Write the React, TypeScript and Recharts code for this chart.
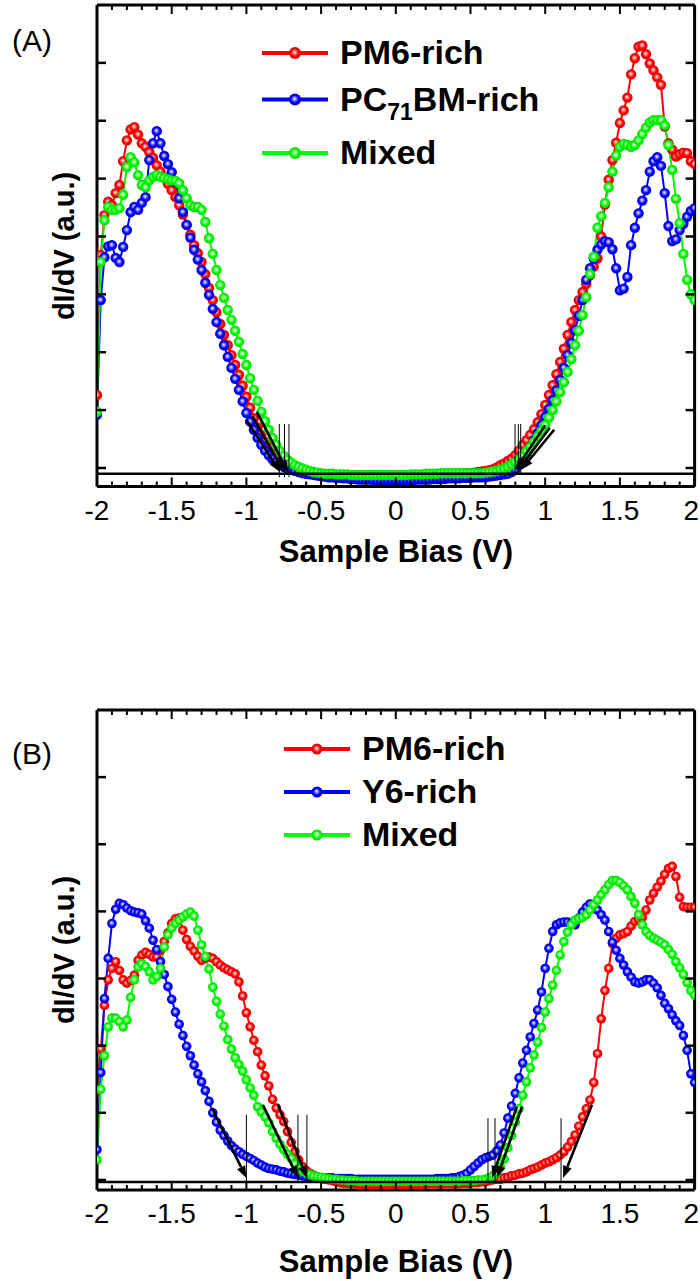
import React from 'react';
import { LineChart, Line, XAxis, YAxis, ReferenceLine } from 'recharts';

const FONT = '"Liberation Sans", Arial, Helvetica, sans-serif';

// Sample bias (V)
const biasV = [
  -2, -1.975, -1.95, -1.925, -1.9, -1.875, -1.85, -1.825, -1.8, -1.775,
  -1.75, -1.725, -1.7, -1.675, -1.65, -1.625, -1.6, -1.575, -1.55, -1.525,
  -1.5, -1.475, -1.45, -1.425, -1.4, -1.375, -1.35, -1.325, -1.3, -1.275,
  -1.25, -1.225, -1.2, -1.175, -1.15, -1.125, -1.1, -1.075, -1.05, -1.025,
  -1, -0.975, -0.95, -0.925, -0.9, -0.875, -0.85, -0.825, -0.8, -0.775,
  -0.75, -0.725, -0.7, -0.675, -0.65, -0.625, -0.6, -0.575, -0.55, -0.525,
  -0.5, -0.475, -0.45, -0.425, -0.4, -0.375, -0.35, -0.325, -0.3, -0.275,
  -0.25, -0.225, -0.2, -0.175, -0.15, -0.125, -0.1, -0.075, -0.05, -0.025,
  0, 0.025, 0.05, 0.075, 0.1, 0.125, 0.15, 0.175, 0.2, 0.225,
  0.25, 0.275, 0.3, 0.325, 0.35, 0.375, 0.4, 0.425, 0.45, 0.475,
  0.5, 0.525, 0.55, 0.575, 0.6, 0.625, 0.65, 0.675, 0.7, 0.725,
  0.75, 0.775, 0.8, 0.825, 0.85, 0.875, 0.9, 0.925, 0.95, 0.975,
  1, 1.025, 1.05, 1.075, 1.1, 1.125, 1.15, 1.175, 1.2, 1.225,
  1.25, 1.275, 1.3, 1.325, 1.35, 1.375, 1.4, 1.425, 1.45, 1.475,
  1.5, 1.525, 1.55, 1.575, 1.6, 1.625, 1.65, 1.675, 1.7, 1.725,
  1.75, 1.775, 1.8, 1.825, 1.85, 1.875, 1.9, 1.925, 1.95, 1.975,
  2,
];

// Panel A (dI/dV, a.u.)
const pm6A = [
  1.26, 3.68, 4.37, 4.6, 4.54, 4.75, 4.89, 5.3, 5.66, 5.85,
  5.89, 5.76, 5.61, 5.55, 5.46, 5.36, 5.23, 5.12, 5.01, 4.91,
  4.8, 4.68, 4.54, 4.38, 4.2, 4.03, 3.85, 3.71, 3.56, 3.35,
  3.11, 2.9, 2.69, 2.49, 2.3, 2.12, 1.95, 1.78, 1.61, 1.42,
  1.23, 1.04, 0.86, 0.7, 0.57, 0.45, 0.35, 0.25, 0.17, 0.1,
  0.05, 0.01, -0.02, -0.04, -0.05, -0.06, -0.07, -0.08, -0.09, -0.1,
  -0.1, -0.11, -0.11, -0.12, -0.12, -0.12, -0.12, -0.13, -0.13, -0.13,
  -0.13, -0.13, -0.13, -0.14, -0.14, -0.14, -0.14, -0.14, -0.14, -0.14,
  -0.14, -0.14, -0.14, -0.14, -0.14, -0.13, -0.13, -0.13, -0.13, -0.13,
  -0.13, -0.12, -0.12, -0.12, -0.12, -0.11, -0.11, -0.1, -0.1, -0.09,
  -0.09, -0.08, -0.07, -0.06, -0.05, -0.04, -0.02, 0.01, 0.05, 0.08,
  0.12, 0.16, 0.22, 0.3, 0.4, 0.48, 0.57, 0.67, 0.79, 0.93,
  1.09, 1.26, 1.43, 1.62, 1.83, 2.06, 2.3, 2.52, 2.73, 2.9,
  3.04, 3.18, 3.33, 3.48, 3.62, 4.0, 4.55, 4.98, 5.32, 5.62,
  5.96, 6.18, 6.4, 6.8, 7.08, 7.28, 7.3, 7.15, 6.99, 6.87,
  6.75, 6.62, 5.9, 5.61, 5.5, 5.38, 5.42, 5.45, 5.44, 5.3,
  5.25,
];
const pcbmA = [
  0.92, 2.9, 3.64, 3.83, 3.85, 3.63, 3.56, 3.82, 4.11, 4.42,
  4.51, 4.46, 4.58, 4.68, 5.32, 5.61, 5.82, 5.61, 5.39, 5.25,
  5.11, 4.94, 4.66, 4.42, 4.2, 3.98, 3.77, 3.6, 3.42, 3.2,
  2.99, 2.75, 2.52, 2.32, 2.12, 1.92, 1.73, 1.54, 1.35, 1.15,
  0.95, 0.8, 0.66, 0.52, 0.4, 0.3, 0.22, 0.15, 0.1, 0.05,
  0.02, -0.01, -0.03, -0.05, -0.07, -0.09, -0.1, -0.11, -0.12, -0.13,
  -0.14, -0.15, -0.16, -0.16, -0.17, -0.17, -0.18, -0.18, -0.19, -0.19,
  -0.2, -0.2, -0.2, -0.2, -0.21, -0.21, -0.21, -0.21, -0.21, -0.21,
  -0.21, -0.21, -0.21, -0.21, -0.21, -0.21, -0.2, -0.2, -0.2, -0.2,
  -0.19, -0.19, -0.19, -0.19, -0.18, -0.18, -0.18, -0.18, -0.17, -0.17,
  -0.17, -0.16, -0.16, -0.16, -0.16, -0.15, -0.14, -0.13, -0.12, -0.11,
  -0.1, -0.07, -0.03, 0.05, 0.14, 0.25, 0.36, 0.48, 0.6, 0.74,
  0.88, 1.02, 1.17, 1.34, 1.52, 1.73, 1.95, 2.16, 2.38, 2.63,
  2.9, 3.25, 3.45, 3.62, 3.77, 3.86, 3.92, 3.9, 3.78, 3.45,
  3.07, 3.1, 3.3, 3.85, 4.15, 4.4, 4.62, 4.8, 5.12, 5.3,
  5.37, 5.22, 4.75, 4.18, 3.92, 3.95, 4.11, 4.22, 4.34, 4.44,
  4.49,
];
const mixA = [
  0.97, 3.56, 4.28, 4.51, 4.46, 4.46, 4.49, 4.72, 5.2, 5.37,
  5.28, 5.06, 4.89, 4.85, 4.97, 5.03, 5.06, 5.03, 5.01, 4.99,
  4.97, 4.96, 4.92, 4.8, 4.66, 4.54, 4.51, 4.51, 4.46, 4.25,
  3.97, 3.7, 3.42, 3.16, 2.94, 2.73, 2.56, 2.37, 2.18, 1.97,
  1.78, 1.55, 1.35, 1.16, 0.97, 0.81, 0.66, 0.52, 0.4, 0.29,
  0.21, 0.14, 0.09, 0.05, 0.02, -0.01, -0.03, -0.05, -0.07, -0.08,
  -0.09, -0.1, -0.1, -0.1, -0.11, -0.11, -0.11, -0.11, -0.12, -0.12,
  -0.12, -0.12, -0.12, -0.12, -0.12, -0.12, -0.12, -0.12, -0.12, -0.12,
  -0.12, -0.12, -0.12, -0.12, -0.11, -0.11, -0.11, -0.11, -0.1, -0.1,
  -0.1, -0.1, -0.09, -0.09, -0.09, -0.09, -0.09, -0.09, -0.09, -0.09,
  -0.09, -0.09, -0.09, -0.09, -0.08, -0.07, -0.06, -0.05, -0.03, -0.01,
  0.02, 0.06, 0.1, 0.15, 0.22, 0.29, 0.36, 0.45, 0.54, 0.64,
  0.74, 0.87, 1.0, 1.15, 1.31, 1.48, 1.66, 1.88, 2.12, 2.37,
  2.64, 2.95, 3.35, 3.65, 4.15, 4.35, 4.58, 4.85, 5.12, 5.4,
  5.55, 5.6, 5.58, 5.55, 5.58, 5.66, 5.77, 5.88, 5.97, 6.01,
  6.01, 6.01, 5.92, 5.58, 5.15, 4.65, 4.23, 3.7, 3.25, 3.0,
  2.9,
];

// Panel B (dI/dV, a.u.)
const pm6B = [
  1.34, 1.95, 2.6, 2.98, 3.15, 3.25, 3.12, 2.98, 2.93, 2.97,
  3.05, 3.27, 3.35, 3.39, 3.36, 3.32, 3.32, 3.42, 3.55, 3.68,
  3.82, 3.89, 3.9, 3.72, 3.58, 3.48, 3.41, 3.33, 3.27, 3.3,
  3.32, 3.3, 3.25, 3.2, 3.16, 3.13, 3.1, 3.07, 2.95, 2.74,
  2.49, 2.28, 2.08, 1.91, 1.71, 1.55, 1.4, 1.2, 1.07, 0.97,
  0.87, 0.72, 0.56, 0.42, 0.3, 0.2, 0.14, 0.1, 0.07, 0.04,
  0.03, 0.01, 0.0, -0.01, -0.03, -0.04, -0.05, -0.05, -0.06, -0.06,
  -0.06, -0.07, -0.07, -0.07, -0.07, -0.07, -0.07, -0.07, -0.07, -0.07,
  -0.07, -0.07, -0.07, -0.07, -0.07, -0.07, -0.07, -0.07, -0.06, -0.06,
  -0.06, -0.06, -0.06, -0.06, -0.06, -0.06, -0.06, -0.06, -0.05, -0.05,
  -0.05, -0.04, -0.04, -0.03, -0.03, -0.01, 0.0, 0.01, 0.01, 0.03,
  0.04, 0.06, 0.07, 0.09, 0.1, 0.12, 0.15, 0.17, 0.19, 0.22,
  0.25, 0.27, 0.3, 0.33, 0.37, 0.42, 0.49, 0.57, 0.67, 0.8,
  0.94, 1.06, 1.19, 1.45, 1.88, 2.4, 2.82, 3.15, 3.52, 3.6,
  3.65, 3.67, 3.7, 3.78, 3.85, 3.88, 3.91, 4.02, 4.17, 4.27,
  4.36, 4.45, 4.55, 4.64, 4.67, 4.52, 4.21, 4.07, 4.06, 4.06,
  4.06,
];
const y6B = [
  0.45, 1.6, 2.7, 3.3, 3.82, 4.03, 4.12, 4.1, 4.05, 4.01,
  3.99, 3.98, 3.96, 3.86, 3.75, 3.57, 3.43, 3.25, 3.06, 2.88,
  2.69, 2.5, 2.32, 2.15, 1.99, 1.85, 1.71, 1.58, 1.46, 1.33,
  1.17, 1.0, 0.86, 0.74, 0.66, 0.58, 0.51, 0.46, 0.42, 0.38,
  0.35, 0.32, 0.29, 0.25, 0.22, 0.19, 0.17, 0.16, 0.15, 0.13,
  0.12, 0.1, 0.09, 0.08, 0.07, 0.06, 0.05, 0.05, 0.04, 0.04,
  0.03, 0.03, 0.03, 0.03, 0.02, 0.02, 0.02, 0.02, 0.02, 0.01,
  0.01, 0.01, 0.01, 0.01, 0.01, 0.01, 0.01, 0.01, 0.01, 0.01,
  0.01, 0.01, 0.01, 0.01, 0.01, 0.01, 0.01, 0.01, 0.01, 0.01,
  0.01, 0.02, 0.02, 0.02, 0.02, 0.03, 0.03, 0.05, 0.07, 0.1,
  0.15, 0.2, 0.25, 0.3, 0.33, 0.35, 0.37, 0.43, 0.52, 0.7,
  0.92, 1.1, 1.29, 1.52, 1.74, 1.93, 2.13, 2.33, 2.53, 2.8,
  3.15, 3.45, 3.7, 3.8, 3.83, 3.84, 3.84, 3.82, 3.8, 3.9,
  3.99, 4.06, 4.11, 4.09, 4.02, 3.95, 3.87, 3.7, 3.54, 3.42,
  3.3, 3.2, 3.1, 3.02, 2.95, 2.93, 2.95, 2.98, 2.98, 2.93,
  2.86, 2.75, 2.63, 2.55, 2.46, 2.37, 2.3, 2.15, 1.93, 1.58,
  1.45,
];
const mixB = [
  0.3, 1.35, 1.85, 2.28, 2.41, 2.41, 2.36, 2.28, 2.38, 2.72,
  2.98, 3.17, 3.22, 3.18, 3.1, 2.98, 3.03, 3.15, 3.47, 3.65,
  3.75, 3.82, 3.87, 3.92, 3.96, 3.99, 3.93, 3.72, 3.5, 3.33,
  3.14, 2.87, 2.66, 2.47, 2.29, 2.09, 1.95, 1.82, 1.72, 1.62,
  1.49, 1.37, 1.26, 1.09, 1.01, 0.94, 0.85, 0.72, 0.62, 0.53,
  0.45, 0.38, 0.32, 0.24, 0.17, 0.13, 0.1, 0.08, 0.06, 0.05,
  0.04, 0.03, 0.02, 0.01, 0.01, 0.0, 0.0, -0.01, -0.01, -0.01,
  -0.02, -0.02, -0.02, -0.02, -0.02, -0.02, -0.02, -0.02, -0.02, -0.02,
  -0.02, -0.02, -0.02, -0.02, -0.02, -0.02, -0.02, -0.02, -0.02, -0.02,
  -0.02, -0.02, -0.02, -0.02, -0.02, -0.02, -0.02, -0.02, -0.01, -0.01,
  -0.01, -0.01, 0.0, 0.0, 0.01, 0.03, 0.06, 0.11, 0.19, 0.31,
  0.48, 0.66, 0.86, 1.06, 1.26, 1.46, 1.67, 1.86, 2.05, 2.27,
  2.5, 2.7, 2.9, 3.12, 3.35, 3.55, 3.69, 3.8, 3.87, 3.89,
  3.91, 3.95, 4.02, 4.1, 4.17, 4.25, 4.32, 4.4, 4.46, 4.46,
  4.43, 4.38, 4.32, 4.22, 4.12, 3.95, 3.8, 3.7, 3.64, 3.6,
  3.57, 3.54, 3.5, 3.43, 3.36, 3.25, 3.16, 3.06, 2.94, 2.82,
  2.75,
];

// Axis ticks
const minorTicks = [
  -2, -1.9, -1.8, -1.7, -1.6, -1.5, -1.4, -1.3, -1.2, -1.1,
  -1, -0.9, -0.8, -0.7, -0.6, -0.5, -0.4, -0.3, -0.2, -0.1,
  0, 0.1, 0.2, 0.3, 0.4, 0.5, 0.6, 0.7, 0.8, 0.9,
  1, 1.1, 1.2, 1.3, 1.4, 1.5, 1.6, 1.7, 1.8, 1.9, 2,
];
const majorTicks = [-2, -1.5, -1, -0.5, 0, 0.5, 1, 1.5, 2];
const majorLabels = ['-2', '-1.5', '-1', '-0.5', '0', '0.5', '1', '1.5', '2'];
const yTicksA = [0, 1, 2, 3, 4, 5, 6, 7];
const yTicksB = [0, 1, 2, 3, 4, 5, 6];
const domainA = [-0.32, 8];
const domainB = [-0.15, 7];
const baselineA = -0.1;
const baselineB = -0.03;

// Onset annotations: arrows [xStart, yStart, xEnd, yEnd]; guides [x, yLow, yHigh]
const arrowsA = [
  [-1.0, 0.83, -0.775, -0.07],
  [-0.96, 0.9, -0.748, -0.07],
  [-0.93, 0.97, -0.722, -0.07],
  [1.0, 0.74, 0.8, -0.03],
  [1.03, 0.69, 0.82, -0.03],
  [1.06, 0.66, 0.84, -0.03],
];
const guidesA = [
  [-0.78, -0.16, 0.76],
  [-0.745, -0.16, 0.76],
  [-0.715, -0.16, 0.76],
  [0.798, -0.12, 0.76],
  [0.82, -0.12, 0.76],
  [0.836, -0.12, 0.76],
];
const arrowsB = [
  [-1.23, 1.07, -1.0, 0.03],
  [-0.89, 1.12, -0.655, 0.03],
  [-0.79, 1.13, -0.595, 0.03],
  [0.81, 1.09, 0.644, 0.03],
  [0.845, 1.09, 0.677, 0.03],
  [1.313, 1.12, 1.119, 0.03],
];
const guidesB = [
  [-1.0, -0.03, 0.97],
  [-0.655, -0.03, 0.97],
  [-0.595, -0.03, 0.97],
  [0.617, -0.03, 0.92],
  [0.664, -0.03, 0.92],
  [1.106, -0.03, 0.92],
];

const RED = '#ff0000';
const BLUE = '#0000ff';
const GREEN = '#00ff00';

const dataA = biasV.map((v, i) => ({ v, red: pm6A[i], blue: pcbmA[i], green: mixA[i] }));
const dataB = biasV.map((v, i) => ({ v, red: pm6B[i], blue: y6B[i], green: mixB[i] }));

const majorIndex = (v: number) => majorTicks.findIndex((m) => Math.abs(m - v) < 1e-6);

const BottomTick = (props: any) => {
  const { x, y, payload } = props;
  const idx = majorIndex(payload.value);
  const major = idx >= 0;
  const last = idx === majorTicks.length - 1;
  return (
    <g>
      <line x1={x} x2={x} y1={y} y2={y - (major ? 9 : 5)} stroke="#000" strokeWidth={2} />
      {major && (
        <text
          x={last ? 699 : x}
          y={y + 33}
          textAnchor={last ? 'end' : 'middle'}
          fontSize={28}
          fontFamily={FONT}
          fill="#000"
        >
          {majorLabels[idx]}
        </text>
      )}
    </g>
  );
};
const TopTick = (props: any) => {
  const { x, y, payload } = props;
  const major = majorIndex(payload.value) >= 0;
  return <line x1={x} x2={x} y1={y} y2={y + (major ? 9 : 5)} stroke="#000" strokeWidth={2} />;
};
const LeftTick = (props: any) => {
  const { x, y } = props;
  return <line x1={x} x2={x + 9} y1={y} y2={y} stroke="#000" strokeWidth={2.5} />;
};
const RightTick = (props: any) => {
  const { x, y } = props;
  return <line x1={x} x2={x - 9} y1={y} y2={y} stroke="#000" strokeWidth={2.5} />;
};

const ArrowShape = (p: any) => {
  const { x1, y1, x2, y2 } = p;
  const dx = x2 - x1;
  const dy = y2 - y1;
  const L = Math.hypot(dx, dy) || 1;
  const ux = dx / L;
  const uy = dy / L;
  const head = 12;
  const half = 4.5;
  const bx = x2 - ux * head;
  const by = y2 - uy * head;
  return (
    <g>
      <line x1={x1} y1={y1} x2={bx} y2={by} stroke="#000" strokeWidth={2.6} />
      <polygon
        points={`${x2},${y2} ${bx - uy * half},${by + ux * half} ${bx + uy * half},${by - ux * half}`}
        fill="#000"
      />
    </g>
  );
};

const makeDot = (grad: string, r: number) => (props: any) => (
  <circle key={`${grad}-${props.index}`} cx={props.cx} cy={props.cy} r={r} fill={`url(#${grad})`} />
);

type PanelProps = {
  data: any[];
  domain: number[];
  yTicks: number[];
  top: number;
  height: number;
  topAxis: number;
  bottomAxis: number;
  baseline: number;
  arrows: number[][];
  guides: number[][];
  r: number;
};

const LEFT_W = 97;
const RIGHT_W = 5.4;

function Panel(p: PanelProps) {
  const axisLine = { stroke: '#000', strokeWidth: 3 };
  return (
    <div style={{ position: 'absolute', left: 0, top: p.top, width: 700, height: p.height }}>
      {/* main chart: frame, ticks and data series */}
      <div style={{ position: 'absolute', left: 0, top: 0 }}>
        <LineChart width={700} height={p.height} data={p.data} margin={{ top: 0, right: 0, bottom: 0, left: 0 }}>
          <XAxis
            xAxisId="b"
            dataKey="v"
            type="number"
            orientation="bottom"
            domain={[-2, 2]}
            ticks={minorTicks}
            interval={0}
            height={p.bottomAxis}
            tickSize={0}
            tickMargin={0}
            tickLine={false}
            axisLine={axisLine}
            tick={BottomTick}
            allowDataOverflow
          />
          <XAxis
            xAxisId="t"
            dataKey="v"
            type="number"
            orientation="top"
            domain={[-2, 2]}
            ticks={minorTicks}
            interval={0}
            height={p.topAxis}
            tickSize={0}
            tickMargin={0}
            tickLine={false}
            axisLine={axisLine}
            tick={TopTick}
            allowDataOverflow
          />
          <YAxis
            yAxisId="l"
            type="number"
            orientation="left"
            domain={p.domain}
            ticks={p.yTicks}
            interval={0}
            width={LEFT_W}
            tickSize={0}
            tickMargin={0}
            tickLine={false}
            axisLine={axisLine}
            tick={LeftTick}
            allowDataOverflow
          />
          <YAxis
            yAxisId="r"
            type="number"
            orientation="right"
            domain={p.domain}
            ticks={p.yTicks}
            interval={0}
            width={RIGHT_W}
            tickSize={0}
            tickMargin={0}
            tickLine={false}
            axisLine={axisLine}
            tick={RightTick}
            allowDataOverflow
          />
          <Line xAxisId="b" yAxisId="l" dataKey="red" stroke={RED} strokeWidth={2} dot={makeDot('gRed', p.r)} activeDot={false} isAnimationActive={false} />
          <Line xAxisId="b" yAxisId="l" dataKey="blue" stroke={BLUE} strokeWidth={2} dot={makeDot('gBlue', p.r)} activeDot={false} isAnimationActive={false} />
          <Line xAxisId="b" yAxisId="l" dataKey="green" stroke={GREEN} strokeWidth={2} dot={makeDot('gGreen', p.r)} activeDot={false} isAnimationActive={false} />
        </LineChart>
      </div>
      {/* annotation layer on top: same scales, baseline, guide lines and onset arrows */}
      <div style={{ position: 'absolute', left: 0, top: 0, pointerEvents: 'none' }}>
        <LineChart
          width={700}
          height={p.height}
          data={p.data}
          margin={{ top: p.topAxis, right: RIGHT_W, bottom: p.bottomAxis, left: LEFT_W }}
        >
          <XAxis xAxisId="b" dataKey="v" type="number" domain={[-2, 2]} hide allowDataOverflow />
          <YAxis yAxisId="l" type="number" domain={p.domain} hide allowDataOverflow />
          <ReferenceLine xAxisId="b" yAxisId="l" y={p.baseline} stroke="#000" strokeWidth={2.5} />
          {p.guides.map((g, i) => (
            <ReferenceLine
              key={`g${i}`}
              xAxisId="b"
              yAxisId="l"
              segment={[{ x: g[0], y: g[1] }, { x: g[0], y: g[2] }]}
              stroke="#000"
              strokeWidth={1}
            />
          ))}
          {p.arrows.map((a, i) => (
            <ReferenceLine
              key={`a${i}`}
              xAxisId="b"
              yAxisId="l"
              segment={[{ x: a[0], y: a[1] }, { x: a[2], y: a[3] }]}
              shape={ArrowShape}
            />
          ))}
        </LineChart>
      </div>
    </div>
  );
}

const legendA = [
  { name: 'PM6-rich', color: RED, grad: 'gRed', y: 53 },
  { name: 'PC71BM-rich', color: BLUE, grad: 'gBlue', y: 99.5 },
  { name: 'Mixed', color: GREEN, grad: 'gGreen', y: 153 },
];
const legendB = [
  { name: 'PM6-rich', color: RED, grad: 'gRed', y: 749 },
  { name: 'Y6-rich', color: BLUE, grad: 'gBlue', y: 792 },
  { name: 'Mixed', color: GREEN, grad: 'gGreen', y: 835 },
];

function LegendRows({ rows, x1, x2, tx, r }: { rows: typeof legendA; x1: number; x2: number; tx: number; r: number }) {
  return (
    <g>
      {rows.map((row) => (
        <g key={row.name}>
          <line x1={x1} x2={x2} y1={row.y} y2={row.y} stroke={row.color} strokeWidth={4} />
          <circle cx={(x1 + x2) / 2} cy={row.y} r={r} fill={`url(#${row.grad})`} />
          <text x={tx} y={row.y + 11} fontSize={34} fontWeight="bold" fontFamily={FONT} fill="#000">
            {row.name === 'PC71BM-rich' ? (
              <>
                PC
                <tspan fontSize={23} dy={9}>71</tspan>
                <tspan dy={-9}>BM-rich</tspan>
              </>
            ) : (
              row.name
            )}
          </text>
        </g>
      ))}
    </g>
  );
}

function Gradients() {
  const g = (id: string, light: string, base: string, dark: string) => (
    <radialGradient id={id} cx="0.5" cy="0.5" r="0.5" fx="0.45" fy="0.42">
      <stop offset="0" stopColor="#ffffff" />
      <stop offset="0.22" stopColor={light} />
      <stop offset="0.62" stopColor={base} />
      <stop offset="1" stopColor={dark} />
    </radialGradient>
  );
  return (
    <defs>
      {g('gRed', '#ff9c9c', RED, '#e00000')}
      {g('gBlue', '#a0a0ff', BLUE, '#0000d8')}
      {g('gGreen', '#b0ffb0', GREEN, '#00d800')}
    </defs>
  );
}

export default function App() {
  return (
    <div style={{ position: 'absolute', left: 0, top: 0, width: 700, height: 1281, background: '#fff', overflow: 'hidden' }}>
      <svg width={0} height={0} style={{ position: 'absolute' }}>
        <Gradients />
      </svg>
      <Panel
        data={dataA}
        domain={domainA}
        yTicks={yTicksA}
        top={0}
        height={560}
        topAxis={5}
        bottomAxis={73.5}
        baseline={baselineA}
        arrows={arrowsA}
        guides={guidesA}
        r={5.2}
      />
      <Panel
        data={dataB}
        domain={domainB}
        yTicks={yTicksB}
        top={660}
        height={621}
        topAxis={50}
        bottomAxis={91}
        baseline={baselineB}
        arrows={arrowsB}
        guides={guidesB}
        r={4.8}
      />
      <svg
        width={700}
        height={1281}
        style={{ position: 'absolute', left: 0, top: 0, pointerEvents: 'none' }}
      >
        <text x={12} y={51} fontSize={30} fontFamily={FONT} fill="#000">(A)</text>
        <text x={12} y={764} fontSize={30} fontFamily={FONT} fill="#000">(B)</text>
        <text x={396} y={562} textAnchor="middle" fontSize={31} fontWeight="bold" fontFamily={FONT} fill="#000">
          Sample Bias (V)
        </text>
        <text x={396} y={1272} textAnchor="middle" fontSize={31} fontWeight="bold" fontFamily={FONT} fill="#000">
          Sample Bias (V)
        </text>
        <text transform="translate(74,246) rotate(-90)" textAnchor="middle" fontSize={29} fontWeight="bold" fontFamily={FONT} fill="#000">
          dI/dV (a.u.)
        </text>
        <text transform="translate(74,950) rotate(-90)" textAnchor="middle" fontSize={29} fontWeight="bold" fontFamily={FONT} fill="#000">
          dI/dV (a.u.)
        </text>
        <LegendRows rows={legendA} x1={262} x2={328} tx={340} r={6} />
        <LegendRows rows={legendB} x1={284} x2={350} tx={362} r={5.5} />
      </svg>
    </div>
  );
}
